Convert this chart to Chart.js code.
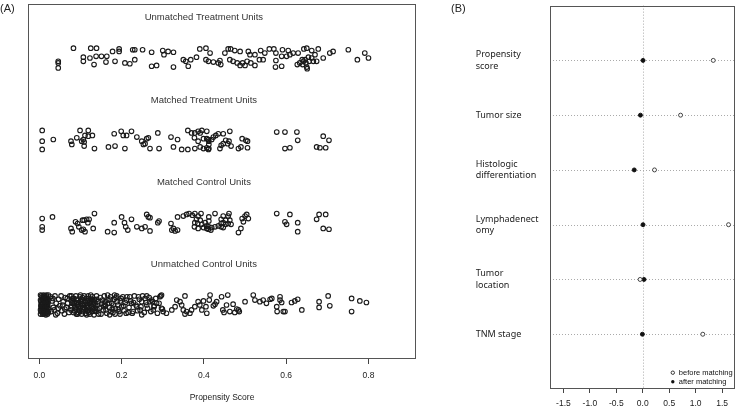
<!DOCTYPE html>
<html>
<head>
<meta charset="utf-8">
<script src="https://cdn.jsdelivr.net/npm/chart.js@4.4.1/dist/chart.umd.min.js"></script>
<style>
  html, body { margin: 0; padding: 0; background: #fff; }
  #wrap { position: relative; width: 740px; height: 409px; overflow: hidden; }
  canvas { position: absolute; top: 0; }
  #chartA { left: 0; }
  #chartB { left: 440px; }
  .tag { position: absolute; top: 2px; font: 11px "Liberation Sans", Arial, sans-serif; color: #222; }
</style>
</head>
<body>
<div id="wrap">
  <canvas id="chartA" width="430" height="409"></canvas>
  <canvas id="chartB" width="300" height="409"></canvas>
  <div class="tag" style="left:0">(A)</div>
  <div class="tag" style="left:451px">(B)</div>
</div>
<script>
// ---- panel A data: [propensity score, jittered group position] ----
const groupNames = ['Unmatched Treatment Units', 'Matched Treatment Units', 'Matched Control Units', 'Unmatched Control Units'];
const groupLevels = [4, 3, 2, 1];
const xTicksA = [0, 0.2, 0.4, 0.6, 0.8];

const unmatchedTreated = [
  [0.046,3.96],[0.046,3.94],[0.046,3.88],[0.083,4.12],[0.125,4.12],[0.139,4.12],[0.107,4.01],[0.123,4.00],
  [0.138,4.02],[0.151,4.02],[0.164,4.02],[0.107,3.96],[0.133,3.92],[0.162,3.95],[0.178,4.08],[0.194,4.11],
  [0.194,4.08],[0.184,3.96],[0.208,3.94],[0.220,3.93],[0.232,3.98],[0.227,4.10],[0.232,4.10],[0.251,4.10],
  [0.273,4.07],[0.273,3.90],[0.285,3.91],[0.300,4.09],[0.303,4.04],[0.313,4.08],[0.326,4.07],[0.326,3.89],
  [0.350,3.98],[0.356,3.96],[0.368,3.98],[0.362,3.90],[0.382,4.01],[0.390,4.11],[0.405,4.12],[0.415,4.06],
  [0.405,3.98],[0.411,3.96],[0.423,3.95],[0.435,3.94],[0.441,3.92],[0.451,4.06],[0.459,4.11],[0.465,4.11],
  [0.475,4.09],[0.488,4.08],[0.463,3.98],[0.471,3.96],[0.481,3.94],[0.488,3.91],[0.494,3.94],[0.500,3.91],
  [0.505,3.96],[0.514,3.94],[0.524,3.91],[0.508,4.08],[0.512,4.04],[0.524,4.04],[0.535,3.98],[0.544,3.98],
  [0.538,4.09],[0.548,4.06],[0.559,4.11],[0.570,4.11],[0.575,4.06],[0.575,3.97],[0.589,4.02],[0.574,3.89],
  [0.589,3.90],[0.591,4.10],[0.605,4.09],[0.601,4.02],[0.609,4.04],[0.617,4.06],[0.629,4.06],[0.627,3.92],
  [0.633,3.94],[0.642,3.96],[0.646,3.98],[0.654,4.01],[0.643,4.11],[0.650,4.12],[0.662,4.09],[0.662,4.00],
  [0.670,4.04],[0.666,3.96],[0.650,3.89],[0.651,3.87],[0.678,4.11],[0.690,4.00],[0.706,4.06],[0.714,4.08],
  [0.751,4.10],[0.773,3.98],[0.791,4.06],[0.800,4.00],[0.639,3.98],[0.648,3.94],[0.656,3.96],[0.640,3.92],
  [0.674,3.96],[0.439,3.97]
];

const matchedTreated = [
  [0.007,3.12],[0.007,2.99],[0.007,2.89],[0.034,3.01],[0.077,2.99],[0.079,2.95],[0.091,3.03],[0.099,3.12],
  [0.103,2.99],[0.107,3.01],[0.109,2.98],[0.111,3.06],[0.119,3.12],[0.119,3.05],[0.129,3.06],[0.109,2.93],
  [0.134,2.90],[0.168,2.92],[0.184,2.93],[0.182,3.08],[0.199,3.11],[0.204,3.06],[0.212,3.06],[0.224,3.11],
  [0.208,2.90],[0.237,3.04],[0.249,2.99],[0.253,2.95],[0.261,3.02],[0.265,3.03],[0.257,2.96],[0.269,2.90],
  [0.288,3.09],[0.291,2.90],[0.320,3.04],[0.336,3.01],[0.326,2.92],[0.346,2.89],[0.361,2.89],[0.361,3.12],
  [0.370,3.09],[0.378,3.09],[0.386,3.11],[0.391,3.09],[0.395,3.12],[0.377,3.03],[0.386,2.99],[0.399,3.02],
  [0.378,2.90],[0.391,2.92],[0.399,2.90],[0.407,2.91],[0.411,3.01],[0.411,2.89],[0.407,3.11],[0.407,3.02],
  [0.412,2.99],[0.412,2.95],[0.412,2.90],[0.419,3.01],[0.423,3.04],[0.429,3.06],[0.435,3.08],[0.442,2.94],
  [0.439,2.90],[0.447,3.08],[0.447,2.96],[0.453,3.00],[0.458,2.96],[0.461,2.99],[0.463,3.11],[0.466,2.93],
  [0.484,2.90],[0.490,2.92],[0.493,3.02],[0.502,3.00],[0.506,2.99],[0.506,2.91],[0.577,3.10],[0.597,3.10],
  [0.626,3.10],[0.628,3.00],[0.597,2.90],[0.609,2.91],[0.674,2.92],[0.682,2.91],[0.690,3.05],[0.704,3.00],
  [0.696,2.91]
];

const matchedControl = [
  [0.007,2.05],[0.032,2.07],[0.007,1.95],[0.007,1.91],[0.077,1.93],[0.080,1.89],[0.088,2.01],[0.093,1.99],
  [0.096,1.95],[0.103,1.91],[0.105,2.03],[0.109,2.03],[0.111,1.89],[0.115,2.04],[0.118,2.00],[0.107,1.92],
  [0.121,2.04],[0.131,1.93],[0.134,2.11],[0.166,1.89],[0.182,1.88],[0.182,2.00],[0.200,2.07],[0.207,2.00],
  [0.210,1.95],[0.215,1.91],[0.224,2.04],[0.237,1.95],[0.249,1.93],[0.257,1.95],[0.261,2.10],[0.265,2.07],
  [0.269,2.06],[0.269,1.90],[0.288,2.00],[0.291,2.02],[0.320,1.99],[0.322,1.91],[0.326,1.93],[0.330,1.90],
  [0.336,1.91],[0.336,2.07],[0.350,2.08],[0.358,2.10],[0.364,2.11],[0.372,2.09],[0.378,2.11],[0.386,2.08],
  [0.393,2.11],[0.382,2.04],[0.391,2.03],[0.378,2.00],[0.385,1.99],[0.395,1.98],[0.403,2.00],[0.377,1.95],
  [0.386,1.93],[0.399,1.94],[0.407,1.96],[0.411,1.92],[0.412,2.07],[0.412,2.02],[0.427,2.11],[0.442,2.04],
  [0.447,2.08],[0.453,2.03],[0.459,2.08],[0.461,2.11],[0.442,1.99],[0.447,2.00],[0.453,1.98],[0.435,1.96],
  [0.427,1.95],[0.419,1.94],[0.412,1.95],[0.407,1.93],[0.417,1.91],[0.442,1.95],[0.447,1.94],[0.459,1.99],
  [0.463,2.03],[0.466,1.98],[0.493,2.05],[0.496,2.01],[0.500,2.08],[0.504,2.10],[0.508,2.05],[0.490,1.93],
  [0.484,1.88],[0.577,2.11],[0.597,2.01],[0.601,1.98],[0.609,2.10],[0.628,2.00],[0.628,1.89],[0.674,2.04],
  [0.680,2.10],[0.696,2.10],[0.690,1.93],[0.704,1.92]
];

const unmatchedControl = [
  [0.005,1.11],[0.012,1.11],[0.018,1.10],[0.007,1.07],[0.015,1.08],[0.021,1.06],[0.004,1.04],[0.010,1.05],
  [0.017,1.03],[0.006,1.01],[0.013,1.00],[0.020,1.01],[0.004,0.98],[0.011,0.97],[0.018,0.98],[0.007,0.95],
  [0.015,0.94],[0.021,0.95],[0.005,0.92],[0.012,0.91],[0.019,0.92],[0.008,0.89],[0.016,0.88],[0.003,0.89],
  [0.009,1.09],[0.014,1.05],[0.009,1.02],[0.016,0.99],[0.008,0.96],[0.013,0.93],[0.020,0.89],[0.022,1.12],
  [0.003,1.12],[0.011,0.94],[0.017,1.12],[0.006,1.09],[0.019,1.08],[0.010,1.07],[0.003,1.06],[0.018,1.05],
  [0.007,1.03],[0.021,1.03],[0.004,1.00],[0.015,1.02],[0.010,0.99],[0.021,0.97],[0.006,0.97],[0.014,0.96],
  [0.003,0.94],[0.018,0.93],[0.009,0.92],[0.016,0.90],[0.011,0.89],[0.022,0.91],[0.014,1.10],[0.010,1.12],
  [0.020,0.99],
  [0.027,1.10],[0.031,1.05],[0.034,0.97],[0.029,0.92],[0.038,1.11],[0.041,1.02],[0.044,0.90],[0.047,1.07],
  [0.050,0.99],[0.053,1.11],[0.055,0.93],[0.058,1.04],[0.061,0.89],[0.063,1.09],[0.066,0.97],[0.069,1.02],
  [0.072,0.91],[0.074,1.11],[0.036,0.94],[0.046,0.96],[0.057,1.00],[0.068,1.08],[0.040,0.88],[0.062,0.95],
  [0.033,1.08],
  [0.078,1.11],[0.084,1.08],[0.089,1.11],[0.094,1.06],[0.099,1.10],[0.104,1.07],[0.109,1.11],[0.114,1.08],
  [0.119,1.11],[0.124,1.05],[0.129,1.10],[0.134,1.07],[0.139,1.11],[0.143,1.04],[0.080,1.02],[0.086,0.99],
  [0.091,1.03],[0.096,0.98],[0.101,1.02],[0.106,0.97],[0.111,1.01],[0.116,0.97],[0.121,1.02],[0.126,0.98],
  [0.131,1.01],[0.136,0.96],[0.141,1.00],[0.077,0.94],[0.083,0.91],[0.088,0.95],[0.093,0.89],[0.098,0.93],
  [0.103,0.89],[0.108,0.94],[0.113,0.90],[0.118,0.93],[0.123,0.89],[0.128,0.92],[0.133,0.88],[0.138,0.92],
  [0.144,0.89],[0.082,1.05],[0.092,1.00],[0.102,1.05],[0.112,1.04],[0.122,0.95],[0.132,1.04],[0.097,0.95],
  [0.107,1.00],[0.117,1.05],[0.127,1.07],[0.087,0.97],[0.137,0.99],[0.079,0.98],[0.115,0.88],[0.100,1.12],
  [0.125,1.12],[0.081,1.08],[0.090,1.07],[0.095,1.03],[0.105,1.09],[0.110,1.05],[0.120,1.08],[0.130,1.06],
  [0.135,1.02],[0.085,1.02],[0.095,1.00],[0.105,1.01],[0.115,1.00],[0.125,1.00],[0.135,0.93],[0.140,1.07],
  [0.085,0.93],[0.095,0.91],[0.105,0.92],[0.110,0.96],[0.120,0.91],[0.130,0.95],[0.090,0.89],[0.100,0.97],
  [0.140,0.95],[0.078,1.05],[0.120,0.98],[0.128,1.03],[0.112,0.93],
  [0.148,1.09],[0.152,1.02],[0.155,0.94],[0.158,1.11],[0.161,0.99],[0.164,0.90],[0.167,1.06],[0.170,0.97],
  [0.173,1.10],[0.176,1.02],[0.179,0.91],[0.182,1.07],[0.185,0.96],[0.188,1.11],[0.191,1.00],[0.194,0.92],
  [0.197,1.05],[0.200,0.98],[0.203,1.10],[0.206,0.93],[0.209,1.03],[0.150,0.89],[0.160,1.04],[0.171,0.88],
  [0.183,1.12],[0.196,0.89],[0.157,0.98],[0.177,0.95],[0.189,1.04],[0.146,0.96],[0.166,1.12],[0.153,1.06],
  [0.162,0.94],[0.169,1.02],[0.174,0.92],[0.180,1.00],[0.186,1.09],[0.192,0.95],[0.199,1.08],[0.205,0.99],
  [0.158,1.01],[0.172,1.07],[0.184,0.89],
  [0.213,1.10],[0.218,0.97],[0.222,1.05],[0.226,0.90],[0.231,1.11],[0.235,1.00],[0.239,0.93],[0.243,1.07],
  [0.247,0.98],[0.251,1.11],[0.255,0.91],[0.259,1.03],[0.263,0.96],[0.267,1.09],[0.271,0.92],[0.275,1.04],
  [0.279,0.99],[0.283,1.08],[0.287,0.90],[0.291,1.02],[0.295,1.11],[0.299,0.95],[0.229,1.03],[0.249,0.88],
  [0.261,1.11],[0.277,0.94],[0.216,0.91],
  [0.211,0.90],[0.212,1.06],[0.220,1.10],[0.224,1.02],[0.228,0.92],[0.237,0.98],[0.241,1.10],[0.245,0.94],
  [0.249,1.04],[0.257,1.08],[0.261,1.00],[0.269,1.04],[0.273,1.06],[0.279,0.98],[0.285,1.02],[0.293,1.10],
  [0.297,1.12],[0.297,0.96],[0.301,0.92],[0.309,0.90],[0.322,0.94],[0.330,0.98],[0.334,1.06],[0.342,1.04],
  [0.346,1.00],[0.350,0.94],[0.354,1.11],[0.354,0.89],[0.358,0.92],[0.366,0.90],[0.370,0.94],[0.378,0.98],
  [0.386,1.04],[0.390,1.00],[0.395,0.94],[0.399,1.05],[0.405,0.98],[0.407,0.90],[0.413,1.06],[0.415,1.12],
  [0.423,0.99],[0.427,1.01],[0.431,1.04],[0.443,1.10],[0.446,0.94],[0.449,0.91],[0.455,1.00],[0.458,1.12],
  [0.463,0.92],[0.471,1.01],[0.475,0.91],[0.480,0.95],[0.484,0.94],[0.486,0.92],
  [0.500,1.04],[0.520,1.12],[0.524,1.06],[0.536,1.04],[0.544,1.06],[0.552,1.02],[0.561,1.07],[0.565,1.08],
  [0.585,1.10],[0.585,1.06],[0.589,1.03],[0.577,0.98],[0.578,0.92],[0.593,0.92],[0.597,0.92],[0.613,1.03],
  [0.621,1.05],[0.628,1.07],[0.638,0.94],[0.680,1.04],[0.680,0.97],[0.702,1.11],[0.706,0.99],[0.759,1.08],
  [0.759,0.92],[0.779,1.05],[0.795,1.03]
];

// ---- panel B data: standardized mean differences ----
const covariates = [['Propensity', 'score'], ['Tumor size'], ['Histologic', 'differentiation'],
                    ['Lymphadenect', 'omy'], ['Tumor', 'location'], ['TNM stage']];
const covariateRows = [6, 5, 4, 3, 2, 1];
const beforeMatching = [1.333, 0.715, 0.222, 1.622, -0.05, 1.135];
const afterMatching = [0.005, -0.044, -0.161, 0.005, 0.024, -0.007];
const xTicksB = [-1.5, -1.0, -0.5, 0.0, 0.5, 1.0, 1.5];

Chart.defaults.font.family = '"Liberation Sans", Arial, sans-serif';
Chart.defaults.color = '#222';

const toPoints = arr => arr.map(p => ({ x: p[0], y: p[1] }));

const boxPlugin = {
  id: 'box',
  afterDraw(chart) {
    const { ctx, chartArea: a } = chart;
    ctx.save();
    ctx.strokeStyle = '#555';
    ctx.lineWidth = 1;
    ctx.strokeRect(Math.round(a.left) + 0.5, Math.round(a.top) + 0.5,
                   Math.round(a.right - a.left) - 1, Math.round(a.bottom - a.top) - 1);
    ctx.restore();
  }
};

const groupLabelPlugin = {
  id: 'groupLabels',
  afterDatasetsDraw(chart) {
    const { ctx, scales } = chart;
    ctx.save();
    ctx.font = '9.5px "Liberation Sans", Arial, sans-serif';
    ctx.fillStyle = '#333';
    ctx.textAlign = 'center';
    ctx.textBaseline = 'middle';
    groupNames.forEach((name, i) => {
      ctx.fillText(name, scales.x.getPixelForValue(0.4), scales.y.getPixelForValue(groupLevels[i] + 0.49));
    });
    ctx.restore();
  }
};

const pointStyle = {
  showLine: false,
  pointRadius: 2.3,
  pointHoverRadius: 2.3,
  pointBorderWidth: 1.1,
  borderColor: '#1a1a1a',
  backgroundColor: 'rgba(0,0,0,0)'
};

new Chart(document.getElementById('chartA'), {
  type: 'scatter',
  data: {
    datasets: [unmatchedTreated, matchedTreated, matchedControl, unmatchedControl].map((g, i) => ({
      label: groupNames[i],
      data: toPoints(g),
      ...pointStyle
    }))
  },
  options: {
    responsive: false,
    animation: false,
    layout: { padding: { left: 28, right: 14, top: 4, bottom: 0 } },
    plugins: { legend: { display: false }, tooltip: { enabled: false } },
    scales: {
      x: {
        type: 'linear',
        min: -0.0275,
        max: 0.9155,
        afterBuildTicks: s => { s.ticks = xTicksA.map(v => ({ value: v })); },
        afterFit: s => { s.height = 50; },
        grid: { display: true, drawOnChartArea: false, drawTicks: true, tickLength: 5, tickColor: '#444' },
        border: { display: false },
        ticks: { padding: 7, autoSkip: false, maxRotation: 0, font: { size: 8.5 }, color: '#222',
                 callback: v => Number(v).toFixed(1) },
        title: { display: true, text: 'Propensity Score', font: { size: 8.5 }, color: '#222',
                 padding: { top: 4, bottom: 6 } }
      },
      y: { type: 'linear', display: false, min: 0.344, max: 4.656 }
    }
  },
  plugins: [boxPlugin, groupLabelPlugin]
});

const refLinePlugin = {
  id: 'refLines',
  beforeDatasetsDraw(chart) {
    const { ctx, chartArea: a, scales } = chart;
    ctx.save();
    ctx.strokeStyle = '#aaa';
    ctx.lineWidth = 1;
    ctx.setLineDash([1, 2]);
    covariateRows.forEach(r => {
      const y = Math.round(scales.y.getPixelForValue(r)) + 0.5;
      ctx.beginPath(); ctx.moveTo(a.left, y); ctx.lineTo(a.right, y); ctx.stroke();
    });
    const x0 = Math.round(scales.x.getPixelForValue(0)) + 0.5;
    ctx.beginPath(); ctx.moveTo(x0, a.top); ctx.lineTo(x0, a.bottom); ctx.stroke();
    ctx.restore();
  }
};

const legendBPlugin = {
  id: 'legendB',
  afterDraw(chart) {
    const { ctx, chartArea: a } = chart;
    const items = [['before matching', false], ['after matching', true]];
    ctx.save();
    ctx.font = '7.5px "Liberation Sans", Arial, sans-serif';
    ctx.textBaseline = 'middle';
    ctx.textAlign = 'left';
    items.forEach(([text, filled], i) => {
      const y = a.bottom - 16.3 + i * 9;
      const x = a.right - 62.3;
      ctx.beginPath();
      ctx.arc(x, y, 1.7, 0, Math.PI * 2);
      ctx.lineWidth = 0.9;
      ctx.strokeStyle = '#222';
      ctx.fillStyle = '#111';
      if (filled) ctx.fill(); else ctx.stroke();
      ctx.fillStyle = '#111';
      ctx.fillText(text, x + 6, y);
    });
    ctx.restore();
  }
};

new Chart(document.getElementById('chartB'), {
  type: 'scatter',
  data: {
    datasets: [
      {
        label: 'before matching',
        data: beforeMatching.map((v, i) => ({ x: v, y: covariateRows[i] })),
        pointRadius: 2,
        pointBorderWidth: 0.9,
        borderColor: '#333',
        backgroundColor: '#fff'
      },
      {
        label: 'after matching',
        data: afterMatching.map((v, i) => ({ x: v, y: covariateRows[i] })),
        pointRadius: 2,
        pointBorderWidth: 0.9,
        borderColor: '#111',
        backgroundColor: '#111'
      }
    ]
  },
  options: {
    responsive: false,
    animation: false,
    layout: { padding: { left: 35.7, right: 1, top: 1, bottom: 0 } },
    plugins: { legend: { display: false }, tooltip: { enabled: false } },
    scales: {
      x: {
        type: 'linear',
        min: -1.754,
        max: 1.746,
        afterBuildTicks: s => { s.ticks = xTicksB.map(v => ({ value: v })); },
        afterFit: s => { s.height = 20; },
        grid: { display: true, drawOnChartArea: false, drawTicks: true, tickLength: 4, tickColor: '#444' },
        border: { display: false },
        ticks: { padding: 6, autoSkip: false, maxRotation: 0, font: { size: 8.5 }, color: '#222',
                 callback: v => Number(v).toFixed(1) }
      },
      y: {
        type: 'linear',
        min: 0,
        max: 7,
        afterBuildTicks: s => { s.ticks = covariateRows.map(v => ({ value: v })); },
        afterFit: s => { s.width = 74.3; },
        grid: { display: false, drawTicks: false },
        border: { display: false },
        ticks: {
          crossAlign: 'far',
          padding: 0,
          autoSkip: false,
          color: '#222',
          font: { family: '"Noto Sans", sans-serif', size: 9, lineHeight: 1.25 },
          callback: v => covariates[covariateRows.indexOf(v)]
        }
      }
    }
  },
  plugins: [refLinePlugin, boxPlugin, legendBPlugin]
});
</script>
</body>
</html>
